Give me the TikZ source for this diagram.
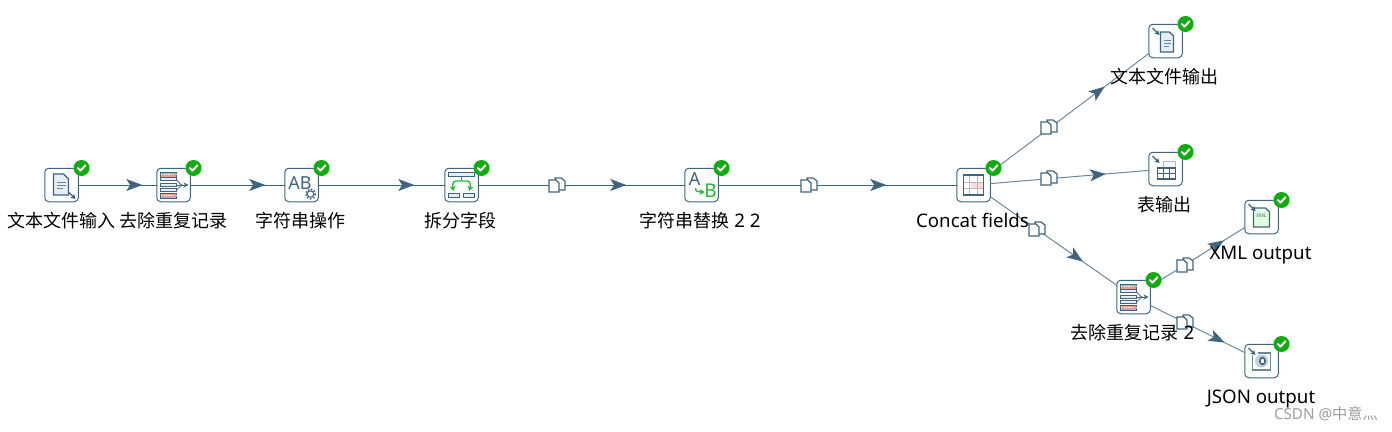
\documentclass[tikz,border=0pt]{standalone}
\usepackage{fontspec}
\setmainfont{Noto Sans}
\newfontfamily\cjk{Noto Sans CJK SC}
\usetikzlibrary{arrows.meta,decorations.markings}
\definecolor{kbl}{HTML}{3F6480}
\definecolor{kln}{HTML}{6A889C}
\definecolor{kok}{HTML}{0FAD0F}
\definecolor{kgr}{HTML}{22BB33}
\definecolor{kpale}{HTML}{E6EEF4}
\definecolor{kred}{HTML}{E04848}
\tikzset{
  stepbox/.style={draw=kbl,fill=white,rounded corners=4pt,line width=1pt,minimum size=33.5pt,inner sep=0pt,outer sep=0pt},
  hopline/.style={draw=kln,line width=1pt},
  mainline/.style={draw=kbl,line width=.9pt},
  tipat/.style={postaction={decorate},decoration={markings,mark=at position #1pt with {\arrow[kbl]{Stealth[length=16pt,width=12pt,inset=4pt]}}}},
  lab/.style={anchor=base,inner sep=0pt,font=\fontsize{18.7}{20}\selectfont,text=black},
  hopicon/.style={minimum size=16pt,inner sep=0pt},
  ico/.style={draw=kbl,line width=1.2pt},
}
\newcommand{\okmark}[1]{%
  \begin{scope}[shift={(#1.center)}]
    \fill[kok] (20,-17) circle (8);
    \draw[white,line width=2pt,line cap=round,line join=round] (16.3,-17) -- (19,-14.4) -- (24,-19.8);
  \end{scope}}
\newcommand{\hopglyph}[1]{%
  \begin{scope}[shift={(#1.center)}]
    \draw[ico,fill=white] (-2,-7) -- (4,-7) -- (8,-4) -- (8,5) -- (0,5) -- cycle;
    \draw[ico,fill=white] (-8,-5) -- (-1,-5) -- (2,-2) -- (2,7) -- (-8,7) -- cycle;
  \end{scope}}
\newcommand{\inarrow}{%
  \draw[kbl,line width=1.3pt,-{Stealth[length=5pt,width=5.5pt]}] (7,7) -- (14,14);}
\newcommand{\outarrow}{%
  \draw[kbl,line width=1.3pt,-{Stealth[length=5pt,width=5.5pt]}] (-13,-13) -- (-6,-6);}
\newcommand{\dedupglyph}[1]{%
  \begin{scope}[shift={(#1.center)}]
    \foreach \yy in {-13,8}{
      \draw[kbl,fill=kred!55,line width=.9pt] (-13,\yy) rectangle (3,\yy+5);
      \draw[white,line width=.8pt,dash pattern=on 1.2pt off 1.2pt] (-12.4,\yy+2.5) -- (2.4,\yy+2.5);}
    \foreach \yy in {-6.5,-0.5,4}{
      \draw[kbl,fill=kpale,line width=.9pt] (-13,\yy-1) rectangle (3,\yy+2);}
    \draw[kbl,line width=.8pt] (3,-5) .. controls (6,-4) and (6,0) .. (9,0) (3,5) .. controls (6,4) and (6,0) .. (9,0);
    \draw[kbl,line width=.9pt,-{Stealth[length=5pt,width=5pt]}] (3,0) -- (15,0);
  \end{scope}}
\begin{document}
\begin{tikzpicture}[x=1pt,y=-1pt]
\useasboundingbox (0,0) rectangle (1392,431);
\fill[white] (0,0) rectangle (1392,431);
% step boxes
\node[stepbox] (input) at (61.5,185) {};
\node[stepbox] (dedup) at (173.5,185) {};
\node[stepbox] (strop) at (301.5,185) {};
\node[stepbox] (split) at (461.5,185) {};
\node[stepbox] (repl) at (701.5,185) {};
\node[stepbox] (concat) at (973.5,185) {};
\node[stepbox] (txtout) at (1165.5,41) {};
\node[stepbox] (tblout) at (1165.5,169) {};
\node[stepbox] (xmlout) at (1261.5,217) {};
\node[stepbox] (dedupb) at (1133.5,297) {};
\node[stepbox] (jsonout) at (1261.5,361) {};
% connectors
\draw[mainline,tipat=64] (input) -- (dedup);
\draw[mainline,tipat=75] (dedup) -- (strop);
\draw[mainline,tipat=96] (strop) -- (split);
\draw[mainline,tipat=148] (split) -- (repl);
\draw[mainline,tipat=168] (repl) -- (concat);
\draw[hopline,tipat=143] (concat) -- (txtout);
\draw[hopline,tipat=116] (concat) -- (tblout);
\draw[hopline,tipat=113] (concat) -- (dedupb);
\draw[hopline,tipat=87] (dedupb) -- (xmlout);
\draw[hopline,tipat=83] (dedupb) -- (jsonout);
% copy-hop glyphs
\node[hopicon] (h1) at (557,185) {};
\node[hopicon] (h2) at (809,185) {};
\node[hopicon] (h3) at (1049,127) {};
\node[hopicon] (h4) at (1049,178) {};
\node[hopicon] (h5) at (1037,229) {};
\node[hopicon] (h6) at (1185,265) {};
\node[hopicon] (h7) at (1185,322) {};
\foreach \h in {h1,h2,h3,h4,h5,h6,h7}{\hopglyph{\h}}
% icons
\begin{scope}[shift={(input.center)}]
  \draw[ico,fill=kpale] (-8,-11) -- (2,-11) -- (7,-6) -- (7,10) -- (-8,10) -- cycle;
  \draw[kln,line width=.7pt] (-5,-3) -- (4,-3) (-5,0) -- (4,0) (-5,3) -- (1,3);
  \inarrow
\end{scope}
\dedupglyph{dedup}
\dedupglyph{dedupb}
\begin{scope}[shift={(strop.center)}]
  \node[inner sep=0pt,text=kbl,font=\fontsize{18}{18}\selectfont] (abtxt) at (-1.5,-1.5) {AB};
  \draw[kbl,line width=1pt,fill=white] (9,9) circle (3.2);
  \draw[kbl,line width=1.5pt,dash pattern=on 1.6pt off 1.6pt] (9,9) circle (4.8);
\end{scope}
\begin{scope}[shift={(split.center)}]
  \draw[kbl,fill=kpale,line width=1pt] (-13,-13) rectangle (13,-9);
  \draw[kbl,fill=kpale,line width=1pt] (-13,8) rectangle (-2,12);
  \draw[kbl,fill=kpale,line width=1pt] (2,8) rectangle (13,12);
  \draw[kgr,line width=1.3pt] (0,-8) -- (0,-4);
  \draw[kgr,line width=1.3pt,-{Stealth[length=5pt,width=6pt]}] (0,-4) -- (-6,-4) .. controls (-9,-4) and (-9,1) .. (-8,6);
  \draw[kgr,line width=1.3pt,-{Stealth[length=5pt,width=6pt]}] (0,-4) -- (6,-4) .. controls (9,-4) and (9,1) .. (8,6);
\end{scope}
\begin{scope}[shift={(repl.center)}]
  \node[inner sep=0pt,text=kbl,font=\fontsize{18}{18}\selectfont] (atxt) at (-7,-6) {A};
  \node[inner sep=0pt,text=kgr,font=\fontsize{19}{19}\selectfont] (btxt) at (9,6) {B};
  \draw[kgr,line width=1.3pt,-{Stealth[length=5pt,width=6pt]}] (-6,3) .. controls (-6,7) and (-3,7) .. (3,7);
\end{scope}
\begin{scope}[shift={(concat.center)}]
  \draw[ico,fill=white] (-10,-10) rectangle (10,10);
  \fill[red!15] (-3,-3) rectangle (9,3);
  \draw[kln!55,line width=.7pt] (-10,-3) -- (10,-3) (-10,3) -- (10,3) (-4,-10) -- (-4,10) (4,-10) -- (4,10);
  \draw[ico] (-10,-10) rectangle (10,10);
\end{scope}
\begin{scope}[shift={(txtout.center)}]
  \draw[ico,fill=kpale] (-5,-9) -- (4,-9) -- (8,-5) -- (8,11) -- (-5,11) -- cycle;
  \draw[kln,line width=.7pt] (-2,-1) -- (5,-1) (-2,2) -- (5,2) (-2,5) -- (3,5);
  \outarrow
\end{scope}
\begin{scope}[shift={(tblout.center)}]
  \draw[kln!55,fill=kpale!40,line width=1pt] (-2,-8) -- (10,-8) -- (10,-1) -- (-2,-1) -- cycle;
  \draw[ico,fill=white] (-8,-1) rectangle (10,10);
  \draw[kbl,line width=.8pt] (-8,4.5) -- (10,4.5) (-2,-1) -- (-2,10) (4,-1) -- (4,10);
  \outarrow
\end{scope}
\begin{scope}[shift={(xmlout.center)}]
  \draw[ico,fill=green!12] (-8,-9) -- (4,-9) -- (8,-5) -- (8,10) -- (-8,10) -- cycle;
  \node[inner sep=0pt,text=kbl,font=\fontsize{5}{5}\selectfont] (xtxt) at (0,-1) {XML};
  \outarrow
\end{scope}
\begin{scope}[shift={(jsonout.center)}]
  \draw[kln,line width=1.4pt] (-9,-6) -- (-9,9) -- (9,9) -- (9,-8) -- (-4,-8);
  \fill[kpale!70!kln] (0,0) circle (6.5);
  \draw[kbl,line width=1.6pt,fill=white] (1,0) ellipse (2.6 and 3.4);
  \outarrow
\end{scope}
% status badges
\foreach \n in {input,dedup,strop,split,repl,concat,txtout,tblout,xmlout,dedupb,jsonout}{\okmark{\n}}
% labels
\node[lab] (l1) at (61,227) {\fontsize{18}{20}\selectfont\cjk 文本文件输入};
\node[lab] (l2) at (173,227) {\fontsize{18}{20}\selectfont\cjk 去除重复记录};
\node[lab] (l3) at (300,227) {\fontsize{18}{20}\selectfont\cjk 字符串操作};
\node[lab] (l4) at (460,227) {\fontsize{18}{20}\selectfont\cjk 拆分字段};
\node[lab] (l5) at (700,227) {{\fontsize{18}{20}\selectfont\cjk 字符串替换} 2 2};
\node[lab] (l6) at (972.5,227) {Concat fields};
\node[lab] (l7) at (1164.5,83) {\fontsize{18}{20}\selectfont\cjk 文本文件输出};
\node[lab] (l8) at (1164.5,211) {\fontsize{18}{20}\selectfont\cjk 表输出};
\node[lab] (l9) at (1260.5,259) {XML output};
\node[lab] (l10) at (1132.5,339) {{\fontsize{18}{20}\selectfont\cjk 去除重复记录} 2};
\node[lab] (l11) at (1261,403) {JSON output};
\node[anchor=base east,inner sep=0pt,text=black!38,font=\fontsize{15.2}{16}\selectfont] (wm) at (1378,419) {CSDN @{\cjk 中意灬}};
\end{tikzpicture}
\end{document}
